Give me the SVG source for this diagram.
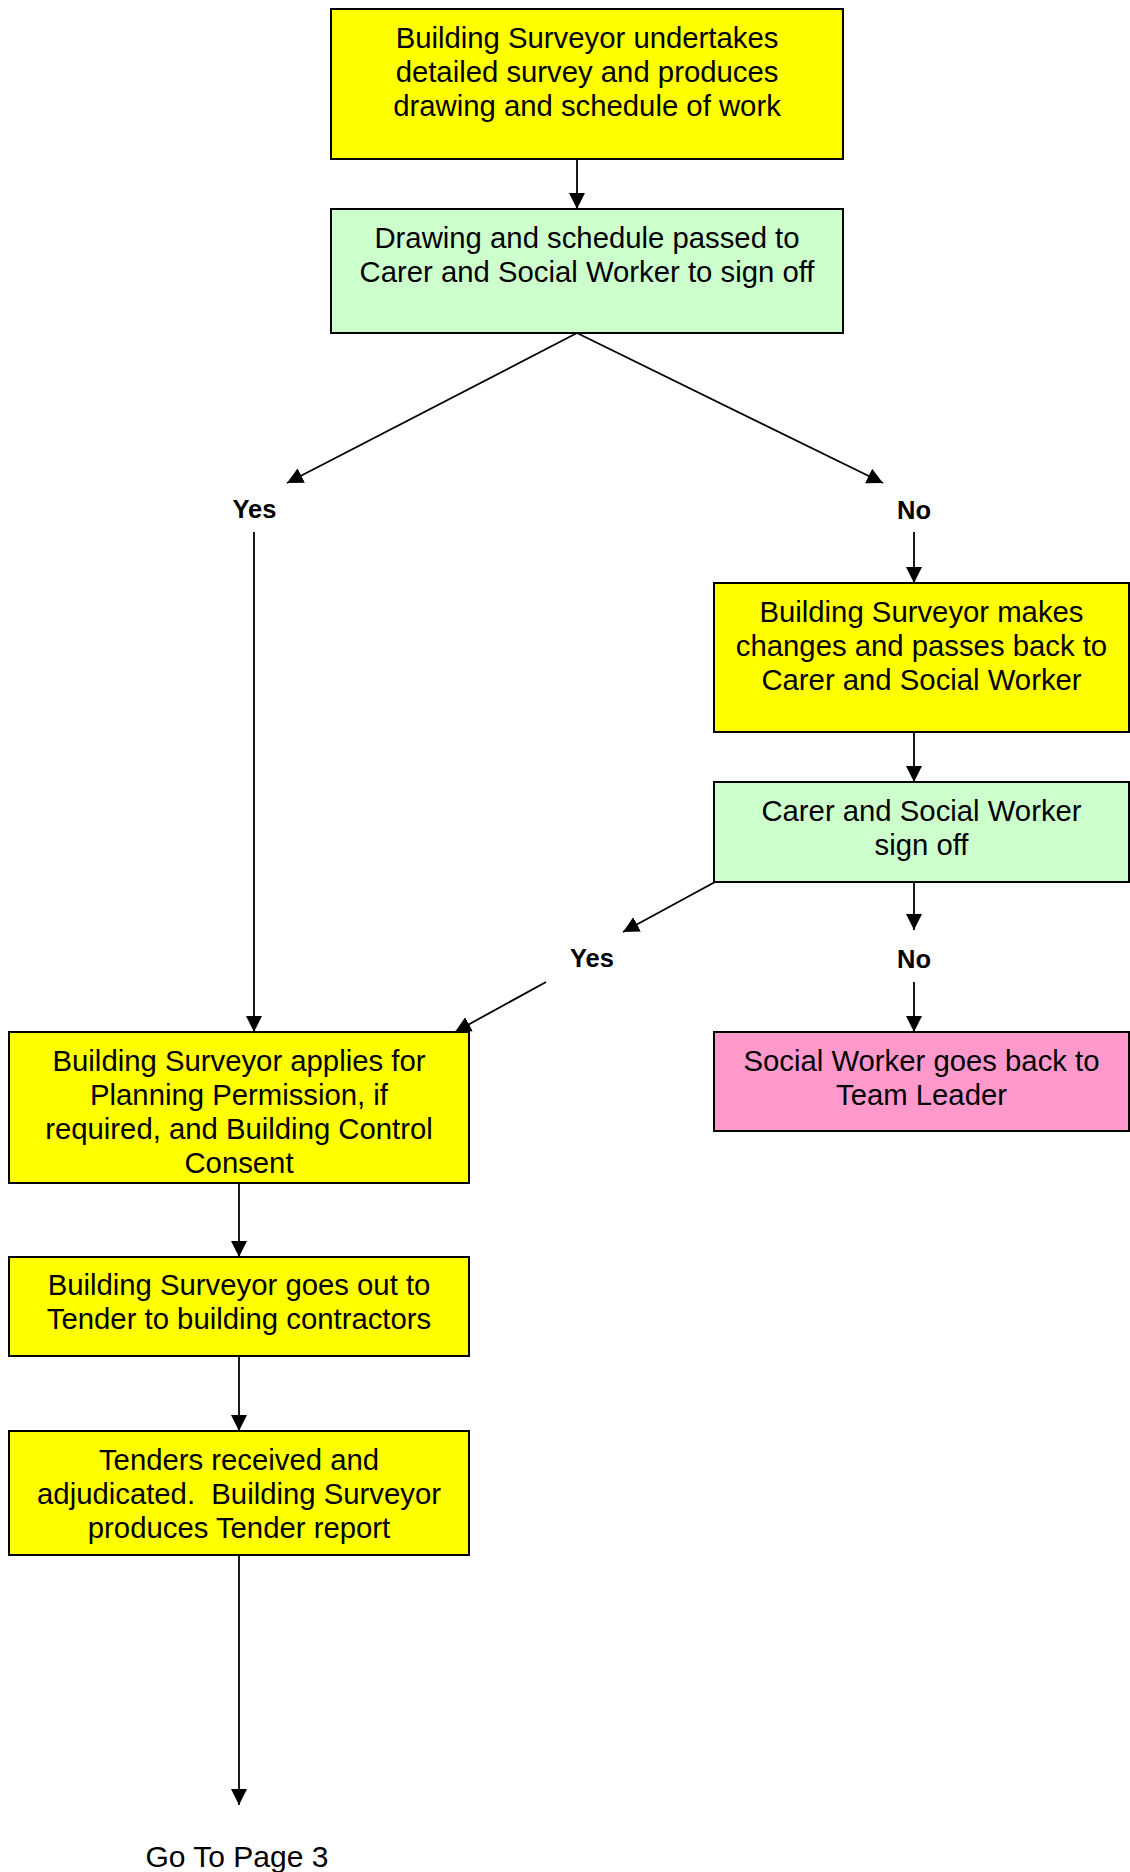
<svg xmlns="http://www.w3.org/2000/svg" width="1130" height="1872" viewBox="0 0 1130 1872">
<defs>
<marker id="ah" markerUnits="userSpaceOnUse" markerWidth="17" markerHeight="17" refX="16" refY="8" orient="auto" viewBox="0 0 17 17">
<path d="M0,0 L16,8 L0,16 z" fill="#000"/>
</marker>
<style>
.box{stroke:#000;stroke-width:2}
.y{fill:#FFFF00}
.g{fill:#CCFFCC}
.p{fill:#FF99CC}
.t{font-family:"Liberation Sans",Arial,sans-serif;font-size:29.3px;fill:#000;text-anchor:middle}
.lb{font-family:"Liberation Sans",Arial,sans-serif;font-size:25.5px;font-weight:bold;fill:#000;text-anchor:middle}
.c{stroke:#000;stroke-width:1.8;fill:none}
.a{marker-end:url(#ah)}
</style>
</defs>
<rect width="1130" height="1872" fill="#fff"/>
<g id="connectors">
<line class="c a" x1="577" y1="159" x2="577" y2="209"/>
<line class="c a" x1="577" y1="333" x2="287" y2="483"/>
<line class="c a" x1="577" y1="333" x2="883" y2="483"/>
<line class="c a" x1="254" y1="532" x2="254" y2="1032"/>
<line class="c a" x1="914" y1="532" x2="914" y2="583"/>
<line class="c a" x1="914" y1="732" x2="914" y2="782"/>
<line class="c a" x1="715" y1="882" x2="623" y2="932"/>
<line class="c a" x1="914" y1="882" x2="914" y2="930"/>
<line class="c a" x1="546" y1="982" x2="455" y2="1032"/>
<line class="c a" x1="914" y1="982" x2="914" y2="1032"/>
<line class="c a" x1="239" y1="1183" x2="239" y2="1257"/>
<line class="c a" x1="239" y1="1356" x2="239" y2="1431"/>
<line class="c a" x1="239" y1="1555" x2="239" y2="1805"/>
</g>
<g id="n1">
<rect class="box y" x="331" y="9" width="512" height="150"/>
<text class="t" x="587" y="47.5">Building Surveyor undertakes</text>
<text class="t" x="587" y="81.5">detailed survey and produces</text>
<text class="t" x="587" y="115.5">drawing and schedule of work</text>
</g>
<g id="n2">
<rect class="box g" x="331" y="209" width="512" height="124"/>
<text class="t" x="587" y="247.5">Drawing and schedule passed to</text>
<text class="t" x="587" y="281.5">Carer and Social Worker to sign off</text>
</g>
<g id="l_yes1"><text class="lb" x="254.5" y="518">Yes</text></g>
<g id="l_no1"><text class="lb" x="914" y="519">No</text></g>
<g id="n3">
<rect class="box y" x="714" y="583" width="415" height="149"/>
<text class="t" x="921.5" y="621.5">Building Surveyor makes</text>
<text class="t" x="921.5" y="655.5">changes and passes back to</text>
<text class="t" x="921.5" y="689.5">Carer and Social Worker</text>
</g>
<g id="n4">
<rect class="box g" x="714" y="782" width="415" height="100"/>
<text class="t" x="921.5" y="820.5">Carer and Social Worker</text>
<text class="t" x="921.5" y="854.5">sign off</text>
</g>
<g id="l_yes2"><text class="lb" x="592" y="967">Yes</text></g>
<g id="l_no2"><text class="lb" x="914" y="968">No</text></g>
<g id="n5">
<rect class="box p" x="714" y="1032" width="415" height="99"/>
<text class="t" x="921.5" y="1071">Social Worker goes back to</text>
<text class="t" x="921.5" y="1105">Team Leader</text>
</g>
<g id="n6">
<rect class="box y" x="9" y="1032" width="460" height="151"/>
<text class="t" x="239" y="1070.5">Building Surveyor applies for</text>
<text class="t" x="239" y="1104.5">Planning Permission, if</text>
<text class="t" x="239" y="1138.5">required, and Building Control</text>
<text class="t" x="239" y="1172.5">Consent</text>
</g>
<g id="n7">
<rect class="box y" x="9" y="1257" width="460" height="99"/>
<text class="t" x="239" y="1294.5">Building Surveyor goes out to</text>
<text class="t" x="239" y="1328.5">Tender to building contractors</text>
</g>
<g id="n8">
<rect class="box y" x="9" y="1431" width="460" height="124"/>
<text class="t" x="239" y="1469.5">Tenders received and</text>
<text class="t" x="239" y="1503.5" xml:space="preserve">adjudicated.  Building Surveyor</text>
<text class="t" x="239" y="1537.5">produces Tender report</text>
</g>
<g id="goto"><text class="t" x="237" y="1867" style="font-size:30px">Go To Page 3</text></g>
</svg>
